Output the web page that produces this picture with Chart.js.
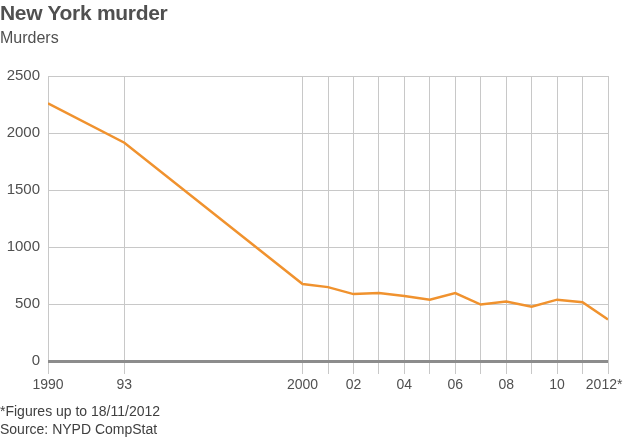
<!DOCTYPE html>
<html>
<head>
<meta charset="utf-8">
<script src="https://cdn.jsdelivr.net/npm/chart.js@4.4.0/dist/chart.umd.min.js"></script>
<style>
body{margin:0;background:#fff;font-family:"Liberation Sans",Arial,sans-serif;}
#wrap{position:relative;width:624px;height:443px;}
#title{position:absolute;left:0;top:1px;font-size:21px;font-weight:bold;color:#505050;letter-spacing:-0.3px;}
#sub{position:absolute;left:0;top:29px;font-size:16px;color:#505050;}
#note{position:absolute;left:0;top:402px;font-size:14px;color:#404040;line-height:18px;}
canvas{position:absolute;left:0;top:0;}
</style>
</head>
<body>
<div id="wrap">
<canvas id="chart" width="624" height="443"></canvas>
<div id="title">New York murder</div>
<div id="sub">Murders</div>
<div id="note">*Figures up to 18/11/2012<br>Source: NYPD CompStat</div>
</div>
<script>
const years=[1990,1993,2000,2001,2002,2003,2004,2005,2006,2007,2008,2009,2010,2011,2012];
const murders=[2260,1915,675,648,587,596,570,538,596,495,521,477,538,515,364];

const tickYears=[1990,1993,2000,2001,2002,2003,2004,2005,2006,2007,2008,2009,2010,2011,2012];
// trailing spaces keep the last label from running off the right edge
const tickLabels=["1990","93","2000","","02","","04","","06","","08","","10","","2012*  "];

const yTicks=[0,500,1000,1500,2000,2500];

new Chart(document.getElementById("chart"),{
    type:"line",
    data:{datasets:[{
        data:years.map((y,i)=>({x:y,y:murders[i]})),
        borderColor:"#f0922e",
        borderWidth:2.5,
        pointRadius:0,
        tension:0,
        fill:false
    }]},
    options:{
        responsive:false,
        animation:false,
        layout:{padding:{left:0,right:16,top:76,bottom:0}},
        plugins:{legend:{display:false},tooltip:{enabled:false}},
        scales:{
            x:{
                type:"linear",
                min:1990,max:2012,
                afterBuildTicks:s=>{s.ticks=tickYears.map(v=>({value:v}));},
                afterFit:s=>{s.height=82;s.paddingLeft=0;s.paddingRight=0;},
                border:{display:false},
                grid:{color:"#c8c8c8",lineWidth:1,tickLength:13,drawOnChartArea:true},
                ticks:{
                    autoSkip:false,maxRotation:0,padding:3,color:"#505050",
                    font:{family:"Liberation Sans",size:14},
                    callback:(v)=>{const i=tickYears.indexOf(v);return i>=0?tickLabels[i]:"";}
                }
            },
            y:{
                min:0,max:2500,
                afterBuildTicks:s=>{s.ticks=yTicks.map(v=>({value:v}));},
                afterFit:s=>{s.width=48;},
                border:{display:false},
                grid:{
                    drawTicks:false,
                    color:c=>c.tick&&c.tick.value===0?"#8c8c8c":"#c8c8c8",
                    lineWidth:c=>c.tick&&c.tick.value===0?3:1
                },
                ticks:{padding:8,color:"#505050",font:{family:"Liberation Sans",size:15},callback:v=>String(v)}
            }
        }
    }
});
</script>
</body>
</html>
